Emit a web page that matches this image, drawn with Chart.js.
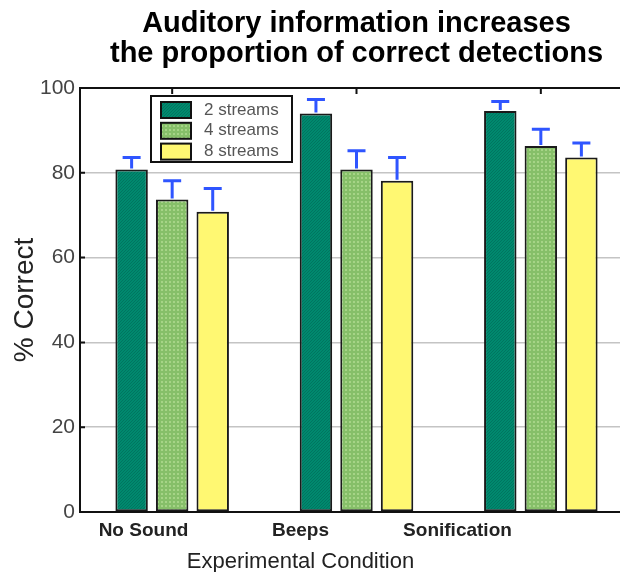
<!DOCTYPE html>
<html lang="en">
<head>
    <meta charset="UTF-8">
    <title>Auditory information increases the proportion of correct detections</title>
    <script src="https://cdn.jsdelivr.net/npm/chart.js"></script>
    <style>
        body {
            margin: 0;
            background: #fff;
            overflow: hidden;
        }
        .wrap {
            width: 620px;
            height: 572px;
            overflow: hidden;
        }
    </style>
</head>
<body>
    <div class="wrap">
        <canvas id="chart" width="710" height="572"></canvas>
    </div>
    <script>
        // data
        const conditions = ['No Sound', 'Beeps', 'Sonification'];
        const seriesLabels = ['2 streams', '4 streams', '8 streams'];
        const streams2 = [80.8, 94.0, 94.6];
        const streams4 = [73.7, 80.8, 86.3];
        const streams8 = [70.8, 78.1, 83.6];
        // upper error bar lengths
        const err2 = [2.8, 3.3, 2.2];
        const err4 = [4.4, 4.4, 4.0];
        const err8 = [5.5, 5.5, 3.4];
        const yTicks = [0, 20, 40, 60, 80, 100];

        const FONT = '"Liberation Sans", Arial, Helvetica, sans-serif';

        // small fill textures like the original
        function makePattern(base, dot, size, dots) {
            const c = document.createElement('canvas');
            c.width = size;
            c.height = size;
            const g = c.getContext('2d');
            g.fillStyle = base;
            g.fillRect(0, 0, size, size);
            g.fillStyle = dot;
            dots.forEach(d => g.fillRect(d[0], d[1], d[2], d[3]));
            return g.createPattern(c, 'repeat');
        }
        const ctx = document.getElementById('chart').getContext('2d');
        const tealFill = makePattern('#00896e', '#007560', 3, [[0, 0, 1, 1], [2, 1, 1, 1], [1, 2, 1, 1]]);
        const greenFill = makePattern('#86bf69', '#a6d487', 4, [[1, 1, 2, 2]]);
        const yellowFill = '#fff872';
        const fills = [tealFill, greenFill, yellowFill];
        const errors = [err2, err4, err8];

        const errorBars = {
            id: 'errorBars',
            afterDatasetsDraw(chart) {
                const c = chart.ctx;
                const y = chart.scales.y;
                c.save();
                c.strokeStyle = '#2f55ff';
                c.lineWidth = 3;
                chart.data.datasets.forEach((ds, i) => {
                    chart.getDatasetMeta(i).data.forEach((bar, j) => {
                        const top = y.getPixelForValue(ds.data[j] + errors[i][j]);
                        c.beginPath();
                        c.moveTo(bar.x, bar.y - 1);
                        c.lineTo(bar.x, top);
                        c.moveTo(bar.x - 9, top);
                        c.lineTo(bar.x + 9, top);
                        c.stroke();
                    });
                });
                c.restore();
            }
        };

        // top border, inward tick marks, legend box and x title
        const frame = {
            id: 'frame',
            afterDraw(chart) {
                const c = chart.ctx;
                const a = chart.chartArea;
                const x = chart.scales.x;
                const y = chart.scales.y;
                c.save();
                c.strokeStyle = '#111';
                c.lineWidth = 2;
                c.beginPath();
                c.moveTo(a.left - 1, a.top);
                c.lineTo(a.right, a.top);
                yTicks.forEach(v => {
                    const py = y.getPixelForValue(v);
                    c.moveTo(a.left, py);
                    c.lineTo(a.left + 5, py);
                });
                conditions.forEach((cond, i) => {
                    const px = x.getPixelForValue(i);
                    c.moveTo(px, a.top);
                    c.lineTo(px, a.top + 6);
                });
                c.stroke();

                // legend
                const lx = a.left + 71, ly = a.top + 8;
                c.fillStyle = '#fff';
                c.fillRect(lx, ly, 141, 66);
                c.strokeRect(lx, ly, 141, 66);
                c.font = '17px ' + FONT;
                c.textBaseline = 'middle';
                c.textAlign = 'left';
                seriesLabels.forEach((lab, i) => {
                    const ry = ly + 6 + i * 20.8;
                    c.fillStyle = fills[i];
                    c.fillRect(lx + 10, ry, 30, 16);
                    c.strokeRect(lx + 10, ry, 30, 16);
                    c.fillStyle = '#555';
                    c.fillText(lab, lx + 53, ry + 8);
                });

                // x axis title, centred between the category labels
                c.fillStyle = '#222';
                c.font = '22px ' + FONT;
                c.textAlign = 'center';
                c.textBaseline = 'alphabetic';
                c.fillText('Experimental Condition', chart.scales.x2.getPixelForValue(1), a.bottom + 56);
                c.restore();
            }
        };

        const chart = new Chart(ctx, {
            type: 'bar',
            data: {
                labels: conditions,
                datasets: [
                    { label: seriesLabels[0], data: streams2, backgroundColor: tealFill },
                    { label: seriesLabels[1], data: streams4, backgroundColor: greenFill },
                    { label: seriesLabels[2], data: streams8, backgroundColor: yellowFill }
                ]
            },
            options: {
                responsive: false,
                animation: false,
                layout: { padding: { left: 0, right: 77, top: 0, bottom: 0 } },
                datasets: {
                    bar: {
                        borderColor: '#1a1a1a',
                        borderWidth: 2,
                        borderSkipped: false,
                        barPercentage: 0.8,
                        categoryPercentage: 0.66
                    }
                },
                plugins: {
                    legend: { display: false },
                    tooltip: { enabled: false },
                    title: {
                        display: true,
                        fullSize: false,
                        text: ['Auditory information increases', 'the proportion of correct detections'],
                        color: '#000',
                        font: { family: FONT, size: 29, weight: 'bold', lineHeight: 30 / 29 },
                        padding: { top: 9, bottom: 19 }
                    }
                },
                scales: {
                    x: {
                        type: 'category',
                        grid: { display: false },
                        ticks: { display: false },
                        border: { color: '#111', width: 2 },
                        afterFit: s => { s.height = 0; }
                    },
                    x2: {
                        type: 'linear',
                        position: 'bottom',
                        offset: false,
                        bounds: 'data',
                        min: -0.4045,
                        max: 3.118,
                        grid: { display: false, drawTicks: false, offset: false },
                        border: { display: false },
                        afterBuildTicks: s => { s.ticks = conditions.map((c, i) => ({ value: i })); },
                        ticks: {
                            padding: 7,
                            color: '#222',
                            font: { family: FONT, size: 19, weight: 'bold' },
                            callback: v => conditions[v]
                        },
                        afterFit: s => { s.height = 60; }
                    },
                    y: {
                        min: 0,
                        max: 100,
                        afterBuildTicks: s => { s.ticks = yTicks.map(v => ({ value: v })); },
                        grid: { color: '#c4c4c4', lineWidth: 1.5, drawTicks: false },
                        border: { color: '#111', width: 2 },
                        ticks: {
                            padding: 5,
                            color: '#444',
                            font: { family: FONT, size: 21 }
                        },
                        title: {
                            display: true,
                            text: '% Correct',
                            color: '#222',
                            font: { family: FONT, size: 28 },
                            padding: { top: 8, bottom: 0 }
                        },
                        afterFit: s => { s.width = 80; }
                    }
                }
            },
            plugins: [errorBars, frame]
        });
    </script>
</body>
</html>
